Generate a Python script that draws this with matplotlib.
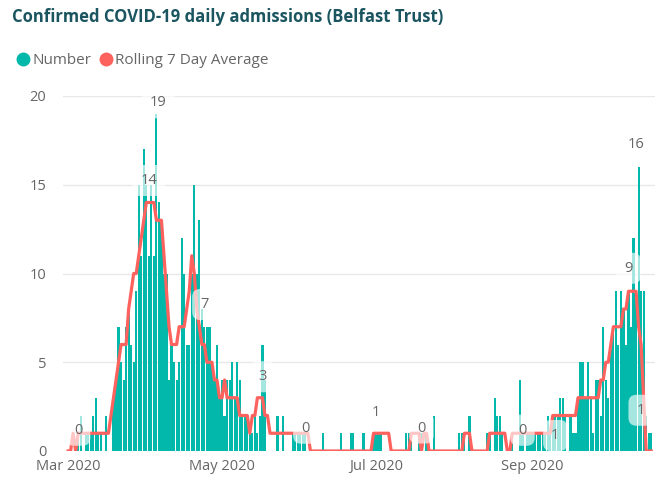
import numpy as np
import pandas as pd
import matplotlib
matplotlib.use("Agg")
import matplotlib.pyplot as plt
import matplotlib.dates as mdates
from matplotlib.lines import Line2D

# Daily confirmed COVID-19 admissions, Belfast Trust, 1 Mar 2020 onwards
start_date = "2020-03-01"
number = [
    0, 0, 0, 0, 1, 2, 0, 1, 1, 1,
    2, 3, 1, 1, 0, 2, 0, 0, 3, 4,
    7, 5, 4, 7, 8, 6, 5, 9, 15, 11,
    17, 15, 11, 15, 11, 19, 14, 13, 10, 10,
    4, 6, 5, 4, 5, 12, 10, 6, 6, 10,
    15, 10, 13, 8, 7, 7, 7, 5, 4, 6,
    3, 4, 2, 4, 4, 5, 3, 5, 4, 2,
    2, 2, 1, 1, 2, 1, 2, 6, 4, 0,
    0, 0, 0, 2, 0, 2, 0, 0, 0, 1,
    1, 1, 1, 1, 1, 0, 0, 0, 0, 0,
    0, 1, 0, 0, 0, 0, 0, 0, 1, 0,
    0, 0, 1, 1, 0, 0, 0, 1, 0, 0,
    0, 1, 1, 1, 1, 0, 0, 0, 0, 0,
    0, 0, 0, 0, 1, 1, 1, 0, 0, 1,
    1, 0, 1, 0, 0, 2, 0, 0, 0, 0,
    0, 0, 0, 0, 0, 1, 1, 1, 0, 2,
    0, 0, 0, 0, 0, 0, 1, 1, 0, 3,
    2, 2, 1, 0, 0, 0, 1, 0, 0, 4,
    1, 0, 1, 1, 1, 1, 1, 1, 1, 1,
    2, 1, 2, 2, 2, 3, 3, 2, 0, 2,
    1, 1, 3, 5, 5, 3, 5, 3, 1, 4,
    4, 2, 7, 4, 3, 6, 7, 9, 6, 9,
    8, 6, 9, 7, 12, 9, 16, 9, 9, 2,
    1, 1,
]

# Rolling 7 day average as shown (rounded)
rolling_avg = [
    0, 0, 1, 0, 1, 1, 1, 1, 1, 1,
    1, 1, 1, 1, 1, 1, 1, 2, 3, 4,
    5, 6, 6, 6, 8, 9, 10, 10, 11, 12,
    13, 14, 14, 14, 14, 13, 13, 13, 11, 9,
    7, 6, 6, 6, 7, 7, 7, 8, 9, 11,
    10, 8, 7, 6, 6, 5, 5, 5, 4, 4,
    3, 3, 4, 3, 3, 3, 3, 3, 2, 2,
    2, 2, 1, 2, 2, 3, 3, 3, 2, 2,
    1, 1, 1, 1, 1, 1, 1, 1, 1, 1,
    1, 1, 1, 1, 1, 1, 0, 0, 0, 0,
    0, 0, 0, 0, 0, 0, 0, 0, 0, 0,
    0, 0, 0, 0, 0, 0, 0, 0, 0, 0,
    0, 1, 1, 1, 1, 1, 1, 1, 0, 0,
    0, 0, 0, 0, 0, 0, 1, 1, 1, 1,
    0, 1, 1, 0, 0, 0, 0, 0, 0, 0,
    0, 0, 0, 0, 0, 0, 0, 1, 1, 1,
    0, 0, 0, 0, 0, 0, 0, 1, 1, 1,
    1, 1, 1, 1, 0, 0, 1, 1, 1, 1,
    1, 1, 1, 1, 1, 1, 1, 1, 1, 1,
    1, 1, 2, 2, 2, 2, 2, 2, 2, 2,
    2, 2, 3, 3, 3, 3, 3, 3, 3, 3,
    3, 4, 4, 5, 5, 6, 7, 7, 7, 7,
    8, 8, 9, 9, 9, 9, 7, 6, 3, 0,
    0, 0,
]

# Data labels shown on the chart: day index, series, text
label_days = [4, 32, 35, 54, 77, 94, 122, 140, 180, 193, 222, 226, 230]
label_series = ["avg", "avg", "num", "avg", "avg", "avg", "avg", "avg", "avg", "avg", "avg", "num", "num"]
label_texts = ["0", "14", "19", "7", "3", "0", "1", "0", "0", "1", "9", "16", "1"]
# offsets in pixels (dx, dy), style only
label_offsets = [(0, 3), (0, 22), (2, 11), (0, 40), (0, 21), (0, 5), (0, 21), (0, 23),
                 (0, 3), (0, -20), (0, 23), (-3, 22), (-8, 23)]

dates = pd.date_range(start_date, periods=len(number), freq="D")

teal = "#01B8AA"
red = "#FD625E"
grey = "#666666"

plt.rcParams["font.family"] = ["Open Sans", "DejaVu Sans"]

fig = plt.figure(figsize=(6.57, 4.97), dpi=100)
ax = fig.add_axes([63 / 657, 46 / 497, 592 / 657, 355 / 497])

ax.bar(dates, number, width=0.86, color=teal, zorder=2)
ax.plot(dates, rolling_avg, color=red, lw=2.3, solid_joinstyle="round", zorder=3)

series = {"num": number, "avg": rolling_avg}
for d, s, t, (dx, dy) in zip(label_days, label_series, label_texts, label_offsets):
    ax.annotate(t, (dates[d], series[s][d]), xytext=(dx * 0.72, dy * 0.72),
                textcoords="offset points", ha="center", va="center",
                fontsize=10.5, color=grey, zorder=5,
                bbox=dict(boxstyle="round,pad=0.55", fc="white", ec="none", alpha=0.65))

ax.set_ylim(0, 20)
ax.set_yticks([0, 5, 10, 15, 20])
ax.set_xlim(dates[0] - pd.Timedelta(days=2), dates[-1] + pd.Timedelta(days=1.5))
ax.xaxis.set_major_locator(mdates.MonthLocator(bymonth=[3, 5, 7, 9]))
ax.xaxis.set_major_formatter(mdates.DateFormatter("%b %Y"))
ax.grid(axis="y", color="#E8E8E8", lw=1, zorder=0)
for sp in ax.spines.values():
    sp.set_visible(False)
ax.tick_params(length=0, labelsize=10.5, labelcolor=grey)
ax.tick_params(axis="y", pad=12)
ax.tick_params(axis="x", pad=6)

fig.text(12 / 657, 1 - 17 / 497, "Confirmed COVID-19 daily admissions (Belfast Trust)",
         fontsize=12, fontweight="bold", color="#1A5560", va="center", ha="left")

handles = [Line2D([], [], marker="o", ls="", ms=9, color=teal),
           Line2D([], [], marker="o", ls="", ms=9, color=red)]
fig.legend(handles, ["Number", "Rolling 7 Day Average"], loc="center left",
           bbox_to_anchor=(10 / 657, 1 - 61 / 497), ncol=2, frameon=False,
           handletextpad=0.15, columnspacing=0.5, fontsize=11, labelcolor=grey,
           borderaxespad=0, handlelength=0.9)

fig.savefig("out.png", dpi=100)
